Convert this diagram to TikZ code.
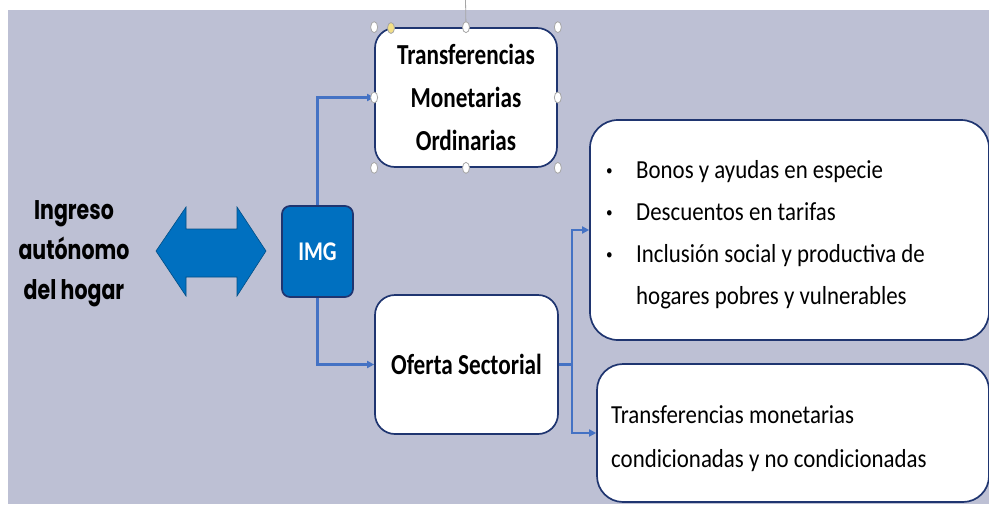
\documentclass[tikz,border=0pt]{standalone}
\usepackage{fontspec}
\setmainfont{Carlito}
\newfontfamily\calb{Carlito}[FakeStretch=0.8]
\newfontfamily\calr{Carlito}[FakeStretch=0.88]
\newfontfamily\goth{Poppins}[FakeStretch=0.76]
\usetikzlibrary{arrows.meta,shapes.geometric}
\definecolor{bgc}{HTML}{BDC0D4}
\definecolor{imgblue}{HTML}{0070C0}
\definecolor{navy}{HTML}{1F3570}
\definecolor{connc}{HTML}{4472C4}
\definecolor{hyellow}{HTML}{F3DF86}
\tikzset{
  wbox/.style={draw=navy, line width=1.7pt, fill=white, rounded corners=20pt, inner sep=0pt},
  connline/.style={draw=connc, line width=2.4pt, -{Triangle[length=7pt,width=7pt]}},
  handle/.style={ellipse, draw=gray!70, fill=white, line width=0.8pt, minimum width=7pt, minimum height=11pt, inner sep=0pt},
}
\begin{document}
\begin{tikzpicture}[x=1pt,y=-1pt]
\useasboundingbox (0,0) rectangle (989,504);
\fill[white] (0,0) rectangle (989,504);
\fill[bgc] (8,10) rectangle (989,504);

% left text
\node[font=\goth\bfseries\fontsize{27}{40}\selectfont, align=center, inner sep=0pt] (ing) at (74,254) {Ingreso\\aut\'onomo\\del hogar};

% double arrow
\filldraw[fill=imgblue, draw=imgblue!70!black, line width=0.6pt]
  (156,251) -- (186,207) -- (186,229) -- (237,229) -- (237,207) -- (266,251)
  -- (237,296) -- (237,277) -- (186,277) -- (186,296) -- cycle;

% IMG box
\node[draw=navy, line width=1.7pt, fill=imgblue, rounded corners=8pt,
      minimum width=71pt, minimum height=91pt, inner sep=0pt,
      text=white, font=\calb\bfseries\fontsize{27}{30}\selectfont] (img) at (317.5,251.5) {IMG};

% top box
\node[wbox, minimum width=182pt, minimum height=139pt, align=center,
      font=\calb\bfseries\fontsize{29}{43}\selectfont] (tmo) at (466,97.5)
      {Transferencias\\Monetarias\\Ordinarias};

% Oferta sectorial
\node[wbox, minimum width=183pt, minimum height=139pt,
      font=\calb\bfseries\fontsize{29}{43}\selectfont] (ofs) at (466.5,364.5) {Oferta Sectorial};

% right boxes
\node[wbox, rounded corners=28pt, minimum width=399pt, minimum height=220pt] (b1) at (789.5,230) {};
\node[wbox, rounded corners=26pt, minimum width=392pt, minimum height=138pt] (b2) at (793,433) {};

\node[anchor=base west, inner sep=0pt, font=\calr\fontsize{26}{42.3}\selectfont] (b1t) at (606,178)
  {\begin{tabular}[t]{@{}p{30pt}@{}l@{}}
   \raisebox{3pt}{\fontsize{15}{15}\selectfont\textbullet} & Bonos y ayudas en especie\\
   \raisebox{3pt}{\fontsize{15}{15}\selectfont\textbullet} & Descuentos en tarifas\\
   \raisebox{3pt}{\fontsize{15}{15}\selectfont\textbullet} & Inclusi\'on social y productiva de\\
               & hogares pobres y vulnerables
   \end{tabular}};
\node[anchor=base west, inner sep=0pt, font=\calr\fontsize{26}{44}\selectfont] (b2t) at (611,423)
  {\begin{tabular}[t]{@{}l@{}}
   Transferencias monetarias\\
   condicionadas y no condicionadas
   \end{tabular}};

% connectors
\draw[connline] (img.north) |- (tmo.west);
\draw[connline] (img.south) |- (ofs.west);
\coordinate (j) at (572,364.5);
\draw[draw=connc, line width=2.4pt] (ofs.east) -- (j);
\draw[connline] (j) |- (b1.west);
\draw[connline] (j) |- (b2.west);

% selection handles on top box
\coordinate (rot) at (465.5,0);
\draw[gray!70, line width=0.8pt] (rot) -- (tmo.north);
\foreach \a/\n in {north west/h1, north/h2, north east/h3, west/h4, east/h5, south west/h6, south/h7, south east/h8}
  \node[handle] (\n) at (tmo.\a) {};
\node[handle, fill=hyellow] (hy) at (391,28) {};
\end{tikzpicture}
\end{document}
